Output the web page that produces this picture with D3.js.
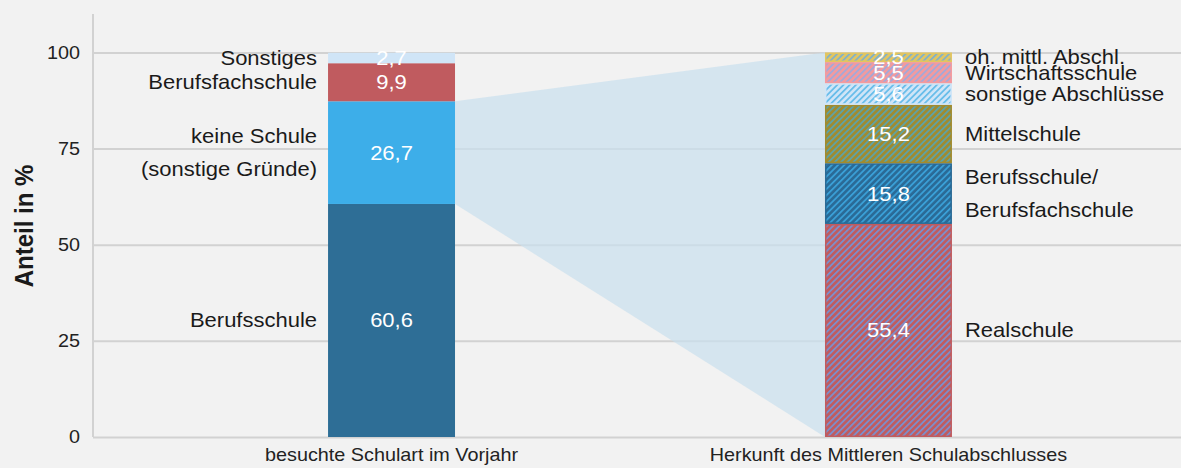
<!DOCTYPE html>
<html lang="de">
<head>
<meta charset="UTF-8">
<title>Schulart</title>
<style>
body { margin: 0; background: #f2f2f2; }
svg { display: block; font-family: "Liberation Sans", Arial, sans-serif; }
.grid line { stroke: #d2d2d2; stroke-width: 2; }
.grid .domain { stroke: none; }
.grid text { fill: #222; font-size: 18px; }
.xaxis .domain, .xaxis line { stroke: none; }
.xaxis text { fill: #222; font-size: 18px; }
</style>
</head>
<body>
<script src="https://cdn.jsdelivr.net/npm/d3@7"></script>
<script>
var categories = ["besuchte Schulart im Vorjahr", "Herkunft des Mittleren Schulabschlusses"]
var yTicks = [0, 25, 50, 75, 100]

// left bar, bottom to top
var leftLabels = [["Berufsschule"], ["keine Schule", "(sonstige Gründe)"], ["Berufsfachschule"], ["Sonstiges"]]
var leftValues = [60.6, 26.7, 9.9, 2.7]
var leftColors = ["#2e6e96", "#3daee9", "#c05b5f", "#d0e5f7"]

// right bar, bottom to top
var rightLabels = [["Realschule"], ["Berufsschule/", "Berufsfachschule"], ["Mittelschule"], ["sonstige Abschlüsse"], ["Wirtschaftsschule"], ["oh. mittl. Abschl."]]
var rightValues = [55.4, 15.8, 15.2, 5.6, 5.5, 2.5]
var rightColors = ["#c05b5f", "#2a6a96", "#a08b2f", "#d0e5f7", "#f39a9e", "#e2c560"]
var rightStripes = ["#7c8ecb", "#3a9fd6", "#5ea2a6", "#68bdea", "#a4a8d8", "#82b2c8"]

// the segment of the left bar that is broken down on the right
var linkIndex = 1

var width = 1181, height = 468
var margin = {top: 14, right: 0, bottom: 31, left: 93}
var sx = 1.1 // text is a bit wide in the original

var svg = d3.select("body").append("svg")
    .attr("width", width)
    .attr("height", height)

var x = d3.scaleBand()
    .domain(categories)
    .range([margin.left, 1187])
    .paddingInner(0.7445)
    .paddingOuter(0.473)

var y = d3.scaleLinear()
    .domain([0, 110])
    .range([height - margin.bottom, margin.top])

function stack(values) {
  var acc = 0
  return values.map(function (v, i) {
    var d = {i: i, v: v, y0: acc, y1: acc + v}
    acc += v
    return d
  })
}
var leftStack = stack(leftValues)
var rightStack = stack(rightValues)

var fmt = function (v) { return d3.format(".1f")(v).replace(".", ",") }

// hatch patterns
var defs = svg.append("defs")
rightValues.forEach(function (v, i) {
  var p = defs.append("pattern")
      .attr("id", "hatch" + i)
      .attr("patternUnits", "userSpaceOnUse")
      .attr("width", 4.4)
      .attr("height", 4.4)
      .attr("patternTransform", "rotate(45)")
  p.append("rect").attr("width", 4.4).attr("height", 4.4).attr("fill", rightColors[i])
  p.append("rect").attr("width", 1.8).attr("height", 4.4).attr("fill", rightStripes[i])
})

// grid + y ticks
svg.append("g")
    .attr("class", "grid")
    .attr("transform", "translate(" + margin.left + ",0)")
    .call(d3.axisLeft(y).tickValues(yTicks).tickSize(-(width - margin.left)))
  .selectAll("text")
    .attr("x", 0)
    .attr("transform", "translate(-13,0) scale(" + sx + ",1)")

svg.append("line")
    .attr("x1", margin.left).attr("x2", margin.left)
    .attr("y1", margin.top).attr("y2", y(0))
    .attr("stroke", "#d2d2d2").attr("stroke-width", 2)

svg.append("text")
    .attr("transform", "translate(33," + 226 + ") scale(" + sx + ",1) rotate(-90)")
    .attr("text-anchor", "middle")
    .attr("font-size", 24)
    .attr("font-weight", "bold")
    .attr("fill", "#1a1a1a")
    .text("Anteil in %")

// connector
var xl = x(categories[0]) + x.bandwidth(), xr = x(categories[1])
var seg = leftStack[linkIndex]
svg.append("polygon")
    .attr("points", [[xl, y(seg.y1)], [xr, y(100)], [xr, y(0)], [xl, y(seg.y0)]].join(" "))
    .attr("fill", "#c9e0ee")
    .attr("opacity", 0.7)

// bars
function drawBar(data, cat, fills, strokes, labels, side) {
  var g = svg.append("g")
  g.selectAll("rect")
    .data(data)
    .enter().append("rect")
      .attr("x", x(cat) + 0.75)
      .attr("width", x.bandwidth() - 1.5)
      .attr("y", function (d) { return y(d.y1) + 0.75 })
      .attr("height", function (d) { return y(d.y0) - y(d.y1) - 1.5 })
      .attr("fill", function (d) { return fills(d) })
      .attr("stroke", function (d) { return strokes(d) })
      .attr("stroke-width", 1.5)

  g.selectAll(".val")
    .data(data)
    .enter().append("text")
      .attr("class", "val")
      .attr("transform", function (d) {
        return "translate(" + (x(cat) + x.bandwidth() / 2) + "," + y((d.y0 + d.y1) / 2) + ") scale(" + sx + ",1)"
      })
      .attr("dy", "0.35em")
      .attr("text-anchor", "middle")
      .attr("font-size", 20)
      .attr("fill", "#fff")
      .text(function (d) { return fmt(d.v) })

  var lx = side === "left" ? x(cat) - 11 : x(cat) + x.bandwidth() + 13
  g.selectAll(".lab")
    .data(data)
    .enter().append("text")
      .attr("class", "lab")
      .attr("transform", function (d) {
        return "translate(" + lx + "," + y((d.y0 + d.y1) / 2) + ") scale(" + sx + ",1)"
      })
      .attr("text-anchor", side === "left" ? "end" : "start")
      .attr("font-size", 20)
      .attr("fill", "#1a1a1a")
      .each(function (d) {
        var lines = labels[d.i]
        var t = d3.select(this)
        lines.forEach(function (l, k) {
          t.append("tspan")
            .attr("x", 0)
            .attr("dy", k === 0 ? (0.35 - (lines.length - 1) * 0.82) + "em" : "1.64em")
            .text(l)
        })
      })
}

drawBar(leftStack, categories[0],
    function (d) { return leftColors[d.i] },
    function (d) { return leftColors[d.i] }, leftLabels, "left")
drawBar(rightStack, categories[1],
    function (d) { return "url(#hatch" + d.i + ")" },
    function (d) { return rightColors[d.i] }, rightLabels, "right")

// x labels
svg.append("g")
    .attr("class", "xaxis")
    .attr("transform", "translate(0," + y(0) + ")")
    .call(d3.axisBottom(x).tickSize(0).tickPadding(11))
  .selectAll("text")
    .attr("transform", "scale(" + sx + ",1)")
</script>
</body>
</html>
